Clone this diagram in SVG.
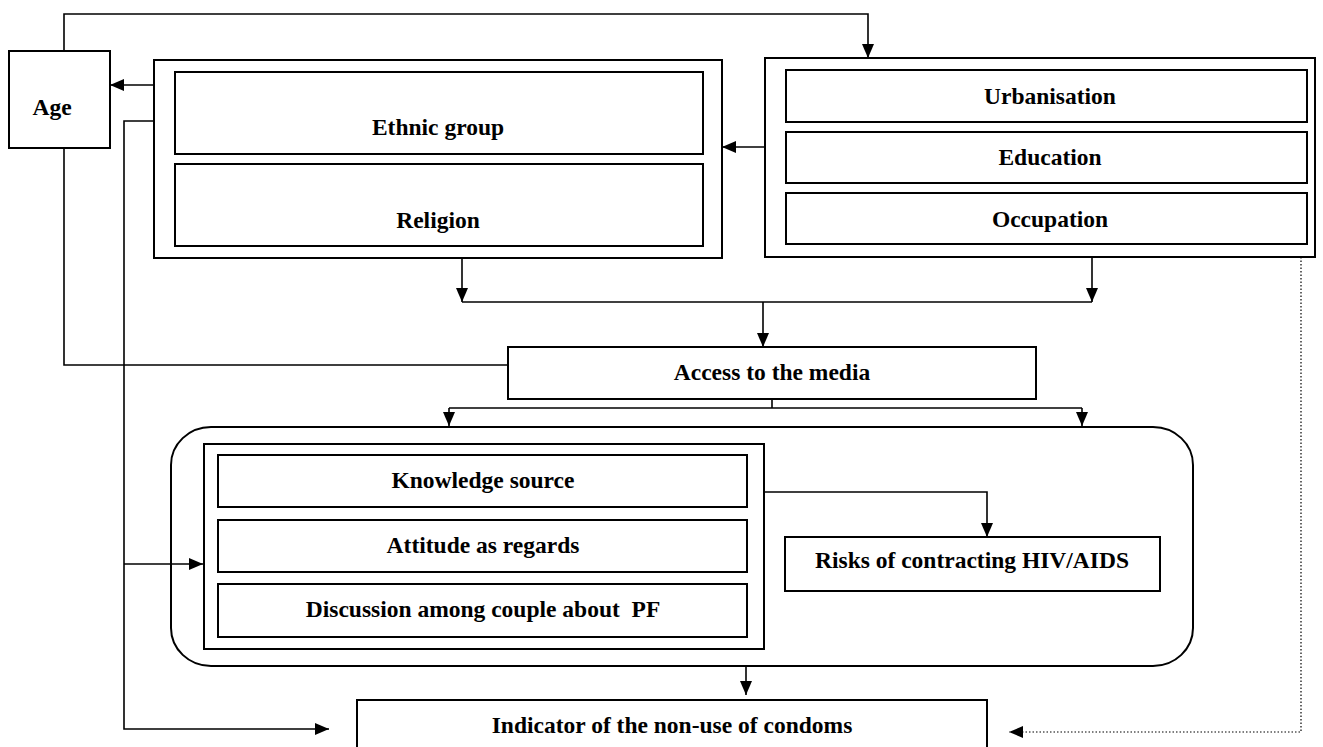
<svg xmlns="http://www.w3.org/2000/svg" width="1323" height="747" viewBox="0 0 1323 747">
<style>
.box{fill:none;stroke:#000;stroke-width:2}
.lbl{font-family:"Liberation Serif","Times New Roman",serif;font-weight:bold;font-size:23.5px;fill:#000;text-anchor:middle}
.con{fill:none;stroke:#000;stroke-width:1.6}
.dot{fill:none;stroke:#000;stroke-width:1.2;stroke-dasharray:1.5,2}
</style>
<defs>
<marker id="arr" markerUnits="userSpaceOnUse" markerWidth="14" markerHeight="12" refX="14" refY="6" orient="auto">
<path d="M0,0 L14,6 L0,12 z" fill="#000"/>
</marker>
</defs>
<rect x="0" y="0" width="1323" height="747" fill="#fff"/>

<g id="age">
<rect class="box" x="9" y="51" width="101" height="97"/>
<text class="lbl" x="52" y="115">Age</text>
</g>

<g id="culture">
<rect class="box" x="154" y="60" width="568" height="198"/>
<g id="ethnic">
<rect class="box" x="175" y="72" width="528" height="82"/>
<text class="lbl" x="438" y="135">Ethnic group</text>
</g>
<g id="religion">
<rect class="box" x="175" y="164" width="528" height="82"/>
<text class="lbl" x="438" y="228">Religion</text>
</g>
</g>

<g id="socioeco">
<rect class="box" x="765" y="58" width="550" height="199"/>
<g id="urbanisation">
<rect class="box" x="786" y="70" width="521" height="52"/>
<text class="lbl" x="1050" y="104">Urbanisation</text>
</g>
<g id="education">
<rect class="box" x="786" y="132" width="521" height="51"/>
<text class="lbl" x="1050" y="165">Education</text>
</g>
<g id="occupation">
<rect class="box" x="786" y="193" width="521" height="51"/>
<text class="lbl" x="1050" y="227">Occupation</text>
</g>
</g>

<g id="media">
<rect class="box" x="508" y="347" width="528" height="52"/>
<text class="lbl" x="772" y="380">Access to the media</text>
</g>

<g id="behaviour">
<rect class="box" x="171" y="427" width="1022" height="239" rx="40" ry="38"/>
<rect class="box" x="204" y="444" width="560" height="205"/>
<g id="knowledge">
<rect class="box" x="218" y="455" width="529" height="52"/>
<text class="lbl" x="483" y="488">Knowledge source</text>
</g>
<g id="attitude">
<rect class="box" x="218" y="520" width="529" height="52"/>
<text class="lbl" x="483" y="553">Attitude as regards</text>
</g>
<g id="discussion">
<rect class="box" x="218" y="584" width="529" height="53"/>
<text class="lbl" x="483" y="617">Discussion among couple about&#160; PF</text>
</g>
<g id="risks">
<rect class="box" x="785" y="537" width="375" height="54"/>
<text class="lbl" x="972" y="568">Risks of contracting HIV/AIDS</text>
</g>
</g>

<g id="indicator">
<rect class="box" x="357" y="700" width="630" height="70"/>
<text class="lbl" x="672" y="733">Indicator of the non-use of condoms</text>
</g>

<g id="connectors">
<polyline class="con" points="64,51 64,14 868,14 868,58" marker-end="url(#arr)"/>
<line class="con" x1="154" y1="85" x2="110" y2="85" marker-end="url(#arr)"/>
<line class="con" x1="765" y1="147" x2="722" y2="147" marker-end="url(#arr)"/>
<polyline class="con" points="64,148 64,365 508,365"/>
<polyline class="con" points="154,121 124,121 124,729 329,729" marker-end="url(#arr)"/>
<line class="con" x1="124" y1="564" x2="203" y2="564" marker-end="url(#arr)"/>
<line class="con" x1="462" y1="258" x2="462" y2="302" marker-end="url(#arr)"/>
<line class="con" x1="1092" y1="257" x2="1092" y2="302" marker-end="url(#arr)"/>
<line class="con" x1="462" y1="302" x2="1092" y2="302"/>
<line class="con" x1="763" y1="302" x2="763" y2="347" marker-end="url(#arr)"/>
<line class="con" x1="772" y1="399" x2="772" y2="408"/>
<line class="con" x1="449" y1="408" x2="1082" y2="408"/>
<line class="con" x1="449" y1="408" x2="449" y2="426" marker-end="url(#arr)"/>
<line class="con" x1="1082" y1="408" x2="1082" y2="426" marker-end="url(#arr)"/>
<polyline class="con" points="764,492 987,492 987,537" marker-end="url(#arr)"/>
<line class="con" x1="746" y1="666" x2="746" y2="695" marker-end="url(#arr)"/>
<polyline class="dot" points="1301,257 1301,732 1009,732" marker-end="url(#arr)"/>
</g>
</svg>
